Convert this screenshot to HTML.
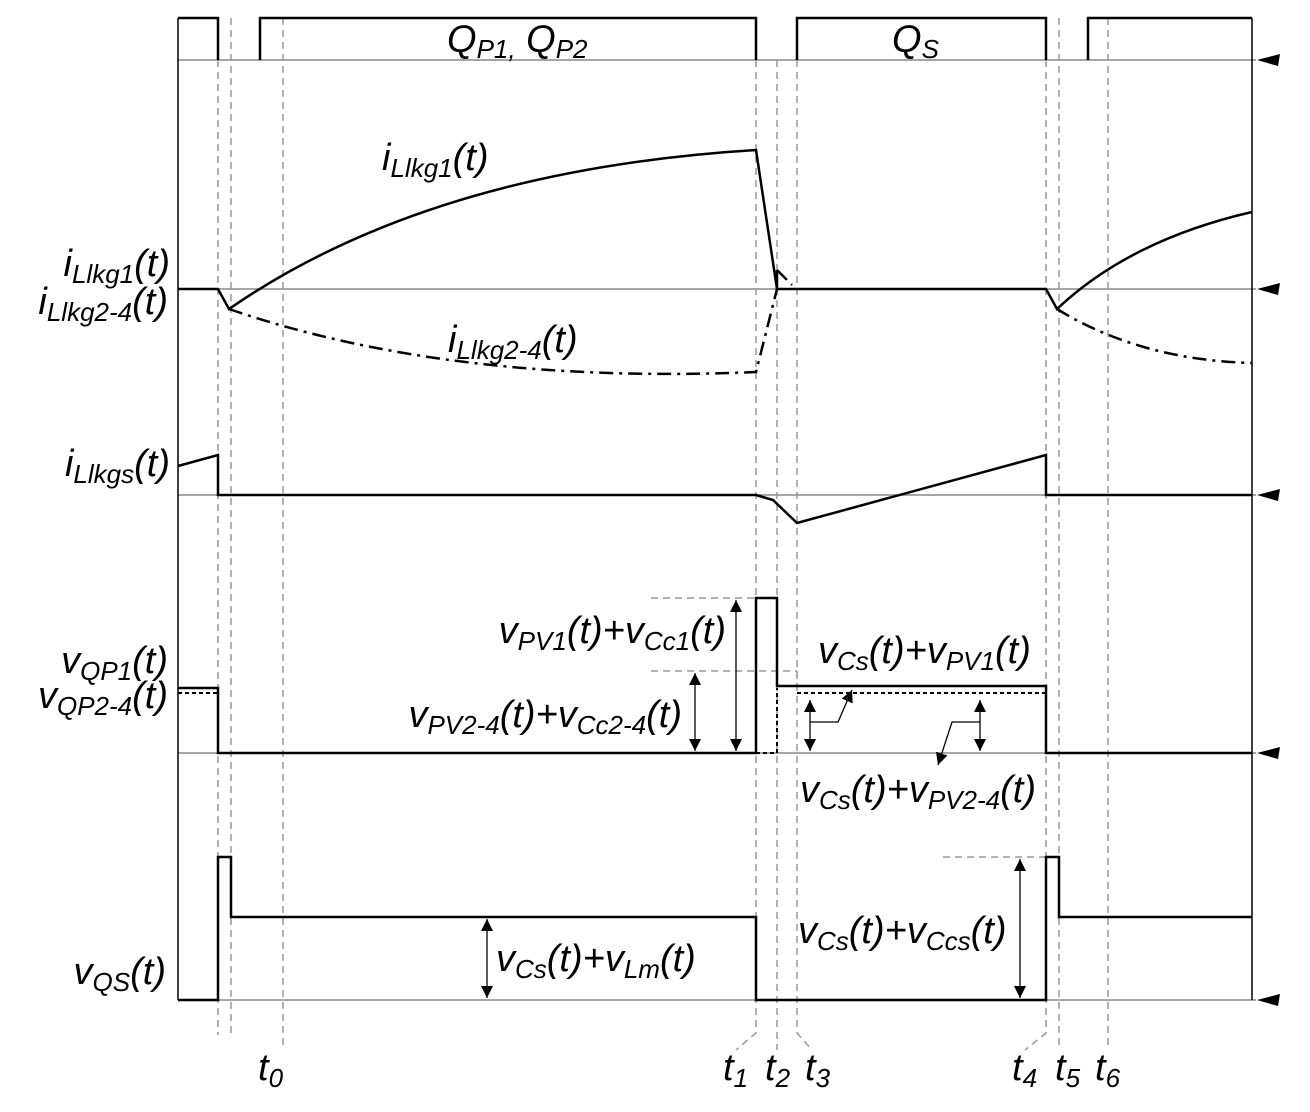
<!DOCTYPE html>
<html><head><meta charset="utf-8"><style>
html,body{margin:0;padding:0;background:#fff}
svg{display:block}
text{font-family:"Liberation Sans",sans-serif;font-style:italic;fill:#000}
</style></head><body>
<svg width="1310" height="1112" viewBox="0 0 1310 1112" xmlns="http://www.w3.org/2000/svg">
<defs>
<marker id="ah" viewBox="0 0 10 10" refX="10" refY="5" markerWidth="12" markerHeight="12" markerUnits="userSpaceOnUse" orient="auto-start-reverse"><path d="M0,0 L10,5 L0,10 z" fill="#000"/></marker>
</defs>
<g stroke="#888" stroke-width="1.5" fill="none">
<line x1="178" y1="60" x2="1256" y2="60"/>
<line x1="178" y1="289" x2="1256" y2="289"/>
<line x1="178" y1="495" x2="1256" y2="495"/>
<line x1="178" y1="753" x2="1256" y2="753"/>
<line x1="178" y1="1000" x2="1256" y2="1000"/>
</g>
<g fill="#000">
<polygon points="1257,60 1280,54 1278,66"/>
<polygon points="1257,289 1280,283 1278,295"/>
<polygon points="1257,495 1280,489 1278,501"/>
<polygon points="1257,753 1280,747 1278,759"/>
<polygon points="1257,1000 1280,994 1278,1006"/>
</g>
<g stroke="#000" stroke-width="1.5"><line x1="178" y1="18" x2="178" y2="1000"/><line x1="1252" y1="18" x2="1252" y2="1000"/></g>
<g stroke="#999" stroke-width="1.5" stroke-dasharray="7,5" fill="none">
<line x1="218" y1="60" x2="218" y2="1035"/>
<line x1="231" y1="18" x2="231" y2="1035"/>
<line x1="283" y1="18" x2="283" y2="1050"/>
<path d="M756 60 V1033 L736 1050"/>
<path d="M777 60 V1050"/>
<path d="M797 60 V1033 L812 1050"/>
<path d="M1046 60 V1033 L1025 1050"/>
<line x1="1059" y1="18" x2="1059" y2="1050"/>
<line x1="1108" y1="18" x2="1108" y2="1050"/>
<line x1="651" y1="598" x2="756" y2="598"/>
<line x1="651" y1="671" x2="797" y2="671"/>
<line x1="797" y1="671" x2="797" y2="688"/>
<line x1="943" y1="857" x2="1046" y2="857"/>
</g>
<g stroke="#000" stroke-width="2.5" fill="none">
<path d="M178 18 H218 V60"/>
<path d="M260 60 V18 H756 V60"/>
<path d="M797 60 V18 H1046 V60"/>
<path d="M1088 60 V18 H1252"/>
</g>
<g stroke="#000" stroke-width="2.5" fill="none">
<path d="M178 289 H218 L229 309 Q430 170 756 150 L777 289 H1046 L1057 309 Q1130 240 1252 212"/>
<path d="M777 289 L777 270"/>
<path d="M178 466 L218 455 V495 H756 L773 500 L797 523 L1046 455 V495 H1252"/>
<path d="M178 688 H218 V753 H756 V598 H777 V686 H1046 V753 H1252"/>
<path d="M178 1000 H218 V857 H231 V917 H756 V1000 H1046 V857 H1059 V917 H1252"/>
</g>
<g stroke="#000" stroke-width="2.5" fill="none" stroke-dasharray="14,6,3,6">
<path d="M229 309 Q450 385 756 372 L777 289"/>
<path d="M777 270 L792 285"/>
<path d="M1057 309 Q1140 360 1252 363"/>
</g>
<g stroke="#000" stroke-width="2" fill="none" stroke-dasharray="4,3">
<path d="M178 693 H218"/>
<path d="M797 693 H1046"/>
<path d="M756 753 H777 V688"/>
<path d="M1049 857 H1059 V917"/>
</g>
<g stroke="#000" stroke-width="1.3" fill="none" marker-start="url(#ah)" marker-end="url(#ah)">
<line x1="736" y1="600" x2="736" y2="751"/>
<line x1="695" y1="673" x2="695" y2="751"/>
<line x1="810" y1="700" x2="810" y2="751"/>
<line x1="980" y1="700" x2="980" y2="751"/>
<line x1="487" y1="919" x2="487" y2="998"/>
<line x1="1020" y1="859" x2="1020" y2="998"/>
</g>
<g stroke="#000" stroke-width="1.3" fill="none">
<path d="M810 722 H838 L852 690" marker-end="url(#ah)"/>
<path d="M980 722 H952 L938 765" marker-end="url(#ah)"/>
</g>
<g font-size="38">
<text x="447" y="52">Q<tspan font-size="26" dy="6">P1,</tspan><tspan dy="-6"> Q</tspan><tspan font-size="26" dy="6">P2</tspan></text>
<text x="892" y="52">Q<tspan font-size="26" dy="6">S</tspan></text>
<text x="382" y="170">i<tspan font-size="26" dy="7">Llkg1</tspan><tspan dy="-7">(t)</tspan></text>
<text x="448" y="352">i<tspan font-size="26" dy="7">Llkg2-4</tspan><tspan dy="-7">(t)</tspan></text>
<text x="170" y="276" text-anchor="end">i<tspan font-size="26" dy="7">Llkg1</tspan><tspan dy="-7">(t)</tspan></text>
<text x="168" y="314" text-anchor="end">i<tspan font-size="26" dy="7">Llkg2-4</tspan><tspan dy="-7">(t)</tspan></text>
<text x="170" y="476" text-anchor="end">i<tspan font-size="26" dy="7">Llkgs</tspan><tspan dy="-7">(t)</tspan></text>
<text x="168" y="673" text-anchor="end">v<tspan font-size="26" dy="7">QP1</tspan><tspan dy="-7">(t)</tspan></text>
<text x="168" y="708" text-anchor="end">v<tspan font-size="26" dy="7">QP2-4</tspan><tspan dy="-7">(t)</tspan></text>
<text x="166" y="984" text-anchor="end">v<tspan font-size="26" dy="7">QS</tspan><tspan dy="-7">(t)</tspan></text>
<text x="726" y="643" text-anchor="end">v<tspan font-size="26" dy="7">PV1</tspan><tspan dy="-7">(t)+v</tspan><tspan font-size="26" dy="7">Cc1</tspan><tspan dy="-7">(t)</tspan></text>
<text x="682" y="727" text-anchor="end">v<tspan font-size="26" dy="7">PV2-4</tspan><tspan dy="-7">(t)+v</tspan><tspan font-size="26" dy="7">Cc2-4</tspan><tspan dy="-7">(t)</tspan></text>
<text x="818" y="663">v<tspan font-size="26" dy="7">Cs</tspan><tspan dy="-7">(t)+v</tspan><tspan font-size="26" dy="7">PV1</tspan><tspan dy="-7">(t)</tspan></text>
<text x="800" y="802">v<tspan font-size="26" dy="7">Cs</tspan><tspan dy="-7">(t)+v</tspan><tspan font-size="26" dy="7">PV2-4</tspan><tspan dy="-7">(t)</tspan></text>
<text x="496" y="971">v<tspan font-size="26" dy="7">Cs</tspan><tspan dy="-7">(t)+v</tspan><tspan font-size="26" dy="7">Lm</tspan><tspan dy="-7">(t)</tspan></text>
<text x="798" y="943">v<tspan font-size="26" dy="7">Cs</tspan><tspan dy="-7">(t)+v</tspan><tspan font-size="26" dy="7">Ccs</tspan><tspan dy="-7">(t)</tspan></text>
<text x="258" y="1080">t<tspan font-size="26" dy="7">0</tspan></text>
<text x="723" y="1080">t<tspan font-size="26" dy="7">1</tspan></text>
<text x="765" y="1080">t<tspan font-size="26" dy="7">2</tspan></text>
<text x="805" y="1080">t<tspan font-size="26" dy="7">3</tspan></text>
<text x="1012" y="1080">t<tspan font-size="26" dy="7">4</tspan></text>
<text x="1055" y="1080">t<tspan font-size="26" dy="7">5</tspan></text>
<text x="1095" y="1080">t<tspan font-size="26" dy="7">6</tspan></text>
</g>
</svg>
</body></html>
